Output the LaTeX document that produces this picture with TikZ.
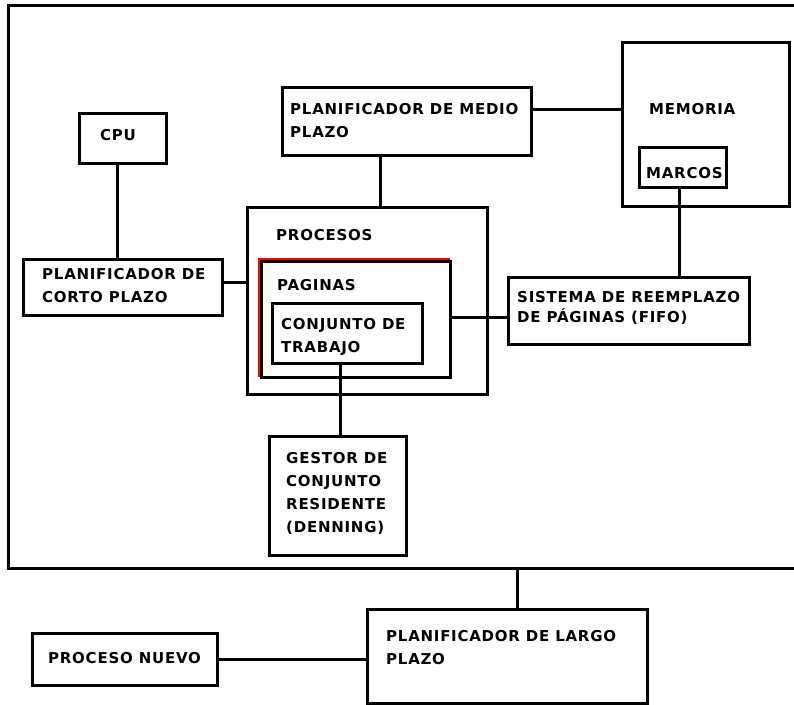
\documentclass[tikz,border=0pt]{standalone}
\usepackage{fontspec}
\newfontfamily\boxfont[LetterSpace=5]{DejaVu Sans}
\usetikzlibrary{positioning}

\begin{document}
\begin{tikzpicture}[
  x=1pt, y=-1pt,
  box/.style={rectangle, draw=black, line width=3pt, inner sep=0pt},
  lbl/.style={anchor=base west, inner sep=0pt, align=left, font={\boxfont\bfseries\fontsize{15pt}{23pt}\selectfont}},
  link/.style={draw=black, line width=3pt}
]
  \useasboundingbox (0,0) rectangle (794,704);

  % Marco del sistema (sale por la derecha)
  \draw[link] (810,5) -| (8,568) -- (810,568);
  \coordinate (sysbot) at (517,568);

  % borde rojo de PAGINAS (debajo del negro)
  \draw[red, line width=2pt] (259,377) |- (450,259);

  % Cajas
  \node[box, minimum width=87pt, minimum height=50pt] (cpu) at (122.5,138) {};
  \node[box, minimum width=199pt, minimum height=56pt] (corto) at (122.5,287) {};
  \node[box, minimum width=249pt, minimum height=68pt] (medio) at (406.5,121) {};
  \node[box, minimum width=167pt, minimum height=164pt] (memoria) at (705.5,124) {};
  \node[box, minimum width=87pt, minimum height=40pt] (marcos) at (682.5,167) {};
  \node[box, minimum width=241pt, minimum height=67pt] (sistema) at (628.5,310.5) {};
  \node[box, minimum width=240pt, minimum height=187pt] (procesos) at (367,300.5) {};
  \node[box, minimum width=189pt, minimum height=116pt] (paginas) at (355.5,319) {};
  \node[box, minimum width=150pt, minimum height=60pt] (conjunto) at (347,333) {};
  \node[box, minimum width=137pt, minimum height=119pt] (gestor) at (337.5,495.5) {};
  \node[box, minimum width=280pt, minimum height=94pt] (largo) at (507,656) {};
  \node[box, minimum width=185pt, minimum height=52pt] (nuevo) at (124.5,659) {};

  % Textos (base = linea de base de la ultima fila)
  \node[lbl] (cpu-t) at (100,140.5) {CPU};
  \node[lbl] (corto-t) at (42,302) {PLANIFICADOR DE\\CORTO PLAZO};
  \node[lbl] (medio-t) at (290,137) {PLANIFICADOR DE MEDIO\\PLAZO};
  \node[lbl] (memoria-t) at (649,114.5) {MEMORIA};
  \node[lbl] (marcos-t) at (646,178.5) {MARCOS};
  \node[lbl] (sistema-t) at (517,322) {SISTEMA DE REEMPLAZO\\[-3pt]DE PÁGINAS (FIFO)};
  \node[lbl] (procesos-t) at (276,240.5) {PROCESOS};
  \node[lbl] (paginas-t) at (277,290.5) {PAGINAS};
  \node[lbl] (conjunto-t) at (281,352.5) {CONJUNTO DE\\TRABAJO};
  \node[lbl] (gestor-t) at (286,532) {GESTOR DE\\CONJUNTO\\RESIDENTE\\(DENNING)};
  \node[lbl] (largo-t) at (386,664) {PLANIFICADOR DE LARGO\\PLAZO};
  \node[lbl] (nuevo-t) at (48,663) {PROCESO NUEVO};

  % Conexiones
  \draw[link] ([xshift=-5.5pt]cpu.south) -- ([xshift=-5.5pt]cpu.south |- corto.north);
  \draw[link] ([yshift=5pt]corto.east) -- ([yshift=5pt]corto.east -| procesos.west);
  \draw[link] ([xshift=13pt]procesos.north) -- ([xshift=13pt]procesos.north |- medio.south);
  \draw[link] ([yshift=12pt]medio.east) -- ([yshift=12pt]medio.east -| memoria.west);
  \draw[link] ([xshift=-3.5pt]marcos.south) -- ([xshift=-3.5pt]marcos.south |- sistema.north);
  \draw[link] ([yshift=2pt]paginas.east) -- ([yshift=2pt]paginas.east -| sistema.west);
  \draw[link] ([xshift=-7pt]conjunto.south) -- ([xshift=-7pt]conjunto.south |- gestor.north);
  \draw[link] (sysbot) -- (sysbot |- largo.north);
  \draw[link] (nuevo.east) -- (nuevo.east -| largo.west);

\end{tikzpicture}
\end{document}
